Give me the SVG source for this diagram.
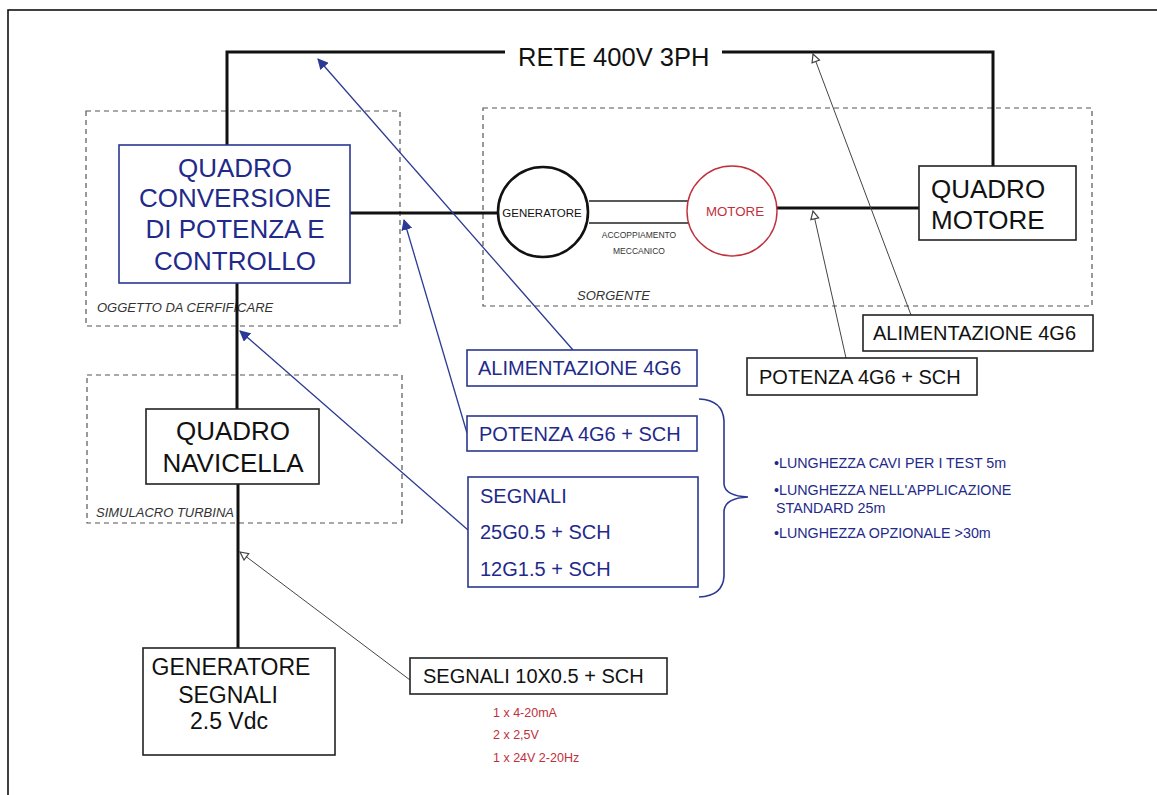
<svg xmlns="http://www.w3.org/2000/svg" width="1157" height="795" viewBox="0 0 1157 795">
  <style>
    text { font-family: "Liberation Sans", Arial, sans-serif; }
    .big { font-size: 26px; }
    .mid { font-size: 20px; }
    .blk { fill: #111; }
    .blu { fill: #1f2a8a; }
    .red { fill: #c0303c; }
    .lbl { font-size: 13px; font-style: italic; fill: #333; }
    .zone { fill: none; stroke: #555; stroke-width: 1.2; stroke-dasharray: 5 4; }
    .box { fill: #fff; stroke: #222; stroke-width: 1.6; }
    .bbox { fill: #fff; stroke: #2b3792; stroke-width: 1.6; }
    .wire { fill: none; stroke: #111; stroke-width: 3; }
    .bl-arrow { fill: none; stroke: #2b3a94; stroke-width: 1.3; marker-end: url(#headBlue); }
    .gr-arrow { fill: none; stroke: #444; stroke-width: 1; marker-end: url(#headGray); }
  </style>
  <defs>
    <marker id="headBlue" viewBox="0 0 10 10" refX="9" refY="5" markerWidth="11" markerHeight="11" markerUnits="userSpaceOnUse" orient="auto">
      <path d="M0,0 L10,5 L0,10 z" fill="#2b3a94"/>
    </marker>
    <marker id="headGray" viewBox="0 0 10 10" refX="9" refY="5" markerWidth="10" markerHeight="10" markerUnits="userSpaceOnUse" orient="auto">
      <path d="M1,1 L9,5 L1,9 z" fill="#fff" stroke="#444" stroke-width="1.2"/>
    </marker>
  </defs>

  <rect width="1157" height="795" fill="#fff"/>
  <!-- page frame -->
  <rect x="8" y="10" width="1160" height="800" fill="none" stroke="#111" stroke-width="1.6"/>

  <!-- dashed zones -->
  <g id="zones">
    <rect class="zone" x="86" y="111" width="314" height="215"/>
    <text class="lbl" x="97" y="312">OGGETTO DA CERFIFICARE</text>
    <rect class="zone" x="483" y="108" width="609" height="198"/>
    <text class="lbl" x="577" y="300">SORGENTE</text>
    <rect class="zone" x="87" y="375" width="315" height="148"/>
    <text class="lbl" x="96" y="517">SIMULACRO TURBINA</text>
  </g>

  <!-- connectors -->
  <g id="connectors">
    <!-- mains line -->
    <polyline class="wire" points="227,145 227,52 505,52"/>
    <polyline class="wire" points="722,52 993,52 993,166"/>
    <line class="wire" x1="350" y1="213" x2="498" y2="213"/>
    <line class="wire" x1="777" y1="208" x2="919" y2="208"/>
    <line class="wire" x1="237" y1="283" x2="237" y2="409"/>
    <line class="wire" x1="238" y1="484" x2="238" y2="648"/>
    <!-- mechanical coupling -->
    <line x1="589" y1="201" x2="688" y2="201" stroke="#222" stroke-width="1.6"/>
    <line x1="589" y1="223" x2="688" y2="223" stroke="#222" stroke-width="1.6"/>
    <!-- cable callouts -->
    <line class="bl-arrow" x1="573" y1="350" x2="318" y2="59"/>
    <line class="bl-arrow" x1="467" y1="433" x2="404" y2="220"/>
    <line class="bl-arrow" x1="468" y1="530" x2="240" y2="331"/>
    <line class="gr-arrow" x1="911" y1="315" x2="813" y2="54"/>
    <line class="gr-arrow" x1="846" y1="358" x2="813" y2="211"/>
    <line class="gr-arrow" x1="410" y1="680" x2="240" y2="552"/>
    <!-- brace -->
    <path d="M699,399 Q723,400 724,421 L724,484 Q725,496 748,497 Q725,498 724,511 L724,576 Q723,596 699,597" fill="none" stroke="#2b3792" stroke-width="1.6"/>
  </g>

  <g id="rete">
    <text class="blk" x="518" y="66" font-size="25.5">RETE 400V 3PH</text>
  </g>

  <g id="quadro-conversione">
    <rect class="bbox" x="119" y="145" width="231" height="138"/>
    <text class="big blu" text-anchor="middle" x="235" y="177">QUADRO</text>
    <text class="big blu" text-anchor="middle" x="235" y="207">CONVERSIONE</text>
    <text class="big blu" text-anchor="middle" x="235" y="238">DI POTENZA E</text>
    <text class="big blu" text-anchor="middle" x="235" y="270">CONTROLLO</text>
  </g>

  <g id="generatore">
    <circle cx="543" cy="212" r="45" fill="#fff" stroke="#111" stroke-width="2.6"/>
    <text class="blk" text-anchor="middle" x="542" y="217" font-size="11.5">GENERATORE</text>
  </g>

  <g id="accoppiamento">
    <text fill="#333" text-anchor="middle" x="639" y="238" font-size="8.5">ACCOPPIAMENTO</text>
    <text fill="#333" text-anchor="middle" x="639" y="254" font-size="8.5">MECCANICO</text>
  </g>

  <g id="motore">
    <circle cx="732" cy="211" r="45" fill="#fff" stroke="#c0303c" stroke-width="1.4"/>
    <text class="red" text-anchor="middle" x="735" y="216" font-size="13.3">MOTORE</text>
  </g>

  <g id="quadro-motore">
    <rect class="box" x="919" y="166" width="157" height="74"/>
    <text class="big blk" x="931" y="198">QUADRO</text>
    <text class="big blk" x="931" y="229">MOTORE</text>
  </g>

  <g id="alimentazione-motore">
    <rect class="box" x="863" y="315" width="230" height="36"/>
    <text class="mid blk" x="873" y="340">ALIMENTAZIONE 4G6</text>
  </g>

  <g id="potenza-motore">
    <rect class="box" x="747" y="358" width="230" height="37"/>
    <text class="mid blk" x="759" y="384">POTENZA 4G6 + SCH</text>
  </g>

  <g id="alimentazione-quadro">
    <rect class="bbox" x="467" y="350" width="230" height="36"/>
    <text class="mid blu" x="478" y="375">ALIMENTAZIONE 4G6</text>
  </g>

  <g id="potenza-quadro">
    <rect class="bbox" x="467" y="416" width="230" height="35"/>
    <text class="mid blu" x="479" y="441">POTENZA 4G6 + SCH</text>
  </g>

  <g id="segnali-quadro">
    <rect class="bbox" x="468" y="477" width="230" height="110"/>
    <text class="mid blu" x="480" y="503">SEGNALI</text>
    <text class="mid blu" x="480" y="539">25G0.5 + SCH</text>
    <text class="mid blu" x="480" y="576">12G1.5 + SCH</text>
  </g>

  <g id="lunghezze" font-size="14.3">
    <text class="blu" x="774" y="468">•LUNGHEZZA CAVI PER I TEST 5m</text>
    <text class="blu" x="774" y="495">•LUNGHEZZA NELL'APPLICAZIONE</text>
    <text class="blu" x="776" y="513">STANDARD 25m</text>
    <text class="blu" x="774" y="538">•LUNGHEZZA OPZIONALE &gt;30m</text>
  </g>

  <g id="quadro-navicella">
    <rect class="box" x="146" y="409" width="173" height="75"/>
    <text class="big blk" text-anchor="middle" x="233" y="440">QUADRO</text>
    <text class="big blk" text-anchor="middle" x="233" y="472">NAVICELLA</text>
  </g>

  <g id="generatore-segnali">
    <rect class="box" x="143" y="648" width="192" height="107"/>
    <text class="blk" text-anchor="middle" x="231" y="675" font-size="23">GENERATORE</text>
    <text class="blk" text-anchor="middle" x="228" y="703" font-size="23">SEGNALI</text>
    <text class="blk" text-anchor="middle" x="229" y="729" font-size="23">2.5 Vdc</text>
  </g>

  <g id="segnali-generatore">
    <rect class="box" x="410" y="658" width="257" height="36"/>
    <text class="mid blk" x="423" y="683">SEGNALI 10X0.5 + SCH</text>
    <text class="red" x="493" y="717" font-size="12.5">1 x 4-20mA</text>
    <text class="red" x="493" y="739" font-size="12.5">2 x 2,5V</text>
    <text class="red" x="493" y="762" font-size="12.5">1 x 24V 2-20Hz</text>
  </g>
</svg>
